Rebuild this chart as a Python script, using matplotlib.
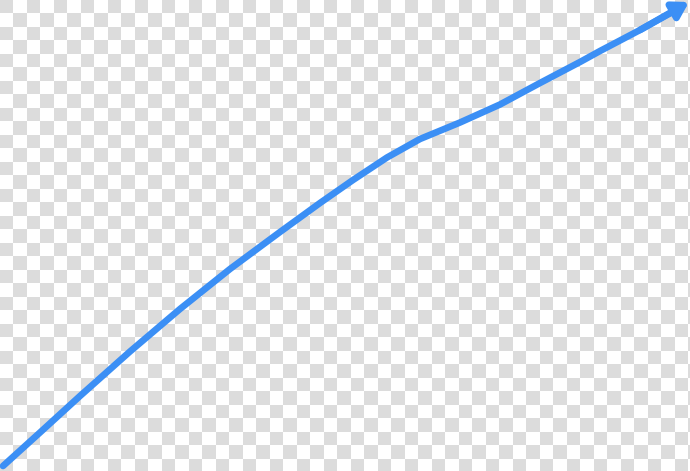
# curved blue arrow on a transparency checkerboard
import numpy as np
import matplotlib
matplotlib.use("Agg")
import matplotlib.pyplot as plt

# points along the curve (pixel coords, y measured from top)
curve_x = [3, 40, 80, 130, 180, 230, 280, 320, 353, 387, 420, 460, 500, 540, 580, 600, 640, 676]
curve_y = [466, 432.5, 396, 351.5, 309, 269, 232, 203, 180, 157.5, 139, 122.5, 104.5, 83, 62, 51, 30, 10]
tip = (689, 2)

W, H = 690, 471
cell = 13.5
line_color = "#3b8ff5"
gray = "#dcdcdc"

fig = plt.figure(figsize=(W / 100, H / 100), dpi=100)
ax = fig.add_axes([0, 0, 1, 1])

# checkerboard background
ncols = int(np.ceil(W / cell))
nrows = int(np.ceil(H / cell))
board = (np.add.outer(np.arange(nrows), np.arange(ncols)) % 2).astype(float)
ax.imshow(board, cmap=matplotlib.colors.ListedColormap([gray, "white"]),
          extent=(0, ncols * cell, nrows * cell, 0), interpolation="nearest", zorder=0)

ax.plot(curve_x, curve_y, color=line_color, lw=4.8, solid_capstyle="round",
        solid_joinstyle="round", zorder=2)
ax.annotate("", xy=tip, xytext=(curve_x[-2], curve_y[-2]),
            arrowprops=dict(arrowstyle="-|>,head_length=0.9,head_width=0.55",
                            color=line_color, lw=4.8, shrinkA=0, shrinkB=0),
            zorder=3)

ax.set_xlim(0, W)
ax.set_ylim(H, 0)
ax.axis("off")

plt.savefig("out.png", dpi=100)
plt.close()
